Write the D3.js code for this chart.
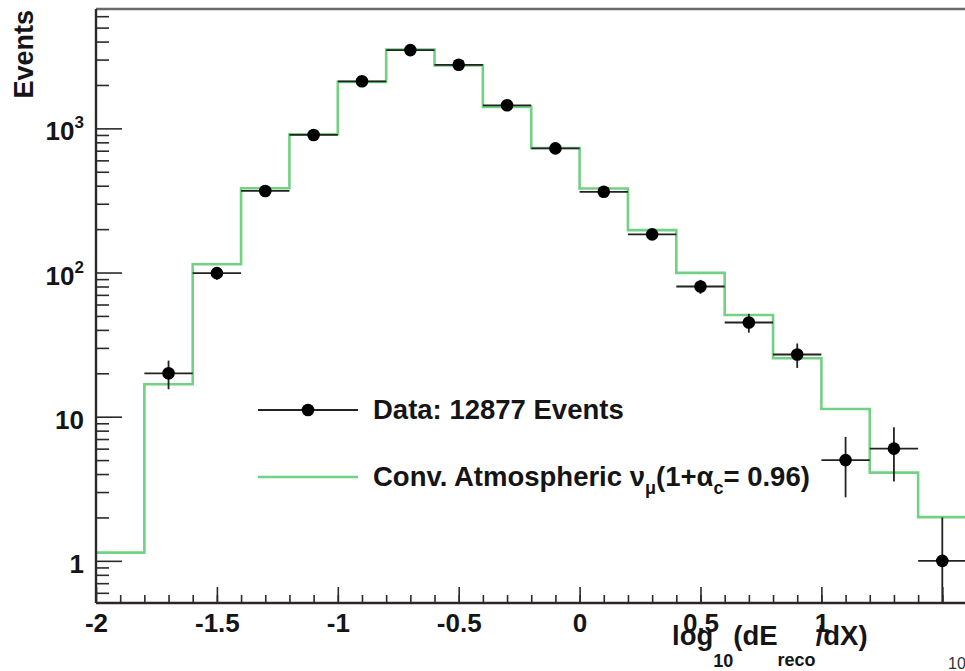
<!DOCTYPE html>
<html lang="en">
<head>
<meta charset="utf-8">
<title>log10(dE/dX) distribution</title>
<script src="https://d3js.org/d3.v7.min.js"></script>
<style>
  body { margin: 0; background: #fff; }
  svg { display: block; font-family: "Liberation Sans", Arial, Helvetica, sans-serif; font-weight: bold; }
  .axis path { display: none; }
  .axis line { stroke: #2a2a2a; stroke-width: 1.6px; }
  .axis text { font-family: "Liberation Sans", Arial, sans-serif; font-size: 26px; font-weight: bold; fill: #151515; }
</style>
</head>
<body>
<svg width="965" height="671"></svg>
<script>
  // histogram bin edges of the simulation (width 0.2), cut at the picture edge
  var mcEdges = [-2, -1.8, -1.6, -1.4, -1.2, -1, -0.8, -0.6, -0.4, -0.2, 0,
                 0.2, 0.4, 0.6, 0.8, 1, 1.2, 1.4, 1.6];
  // Conv. atmospheric nu_mu expectation per bin
  var mcCounts = [1.14, 16.8, 114, 384, 910, 2100, 3520, 2737, 1410, 731,
                  383, 197, 99.5, 50.7, 25.4, 11.3, 4.09, 2.01];

  // data points (bin centres), counts and poisson errors
  var dataX = [-1.7, -1.5, -1.3, -1.1, -0.9, -0.7, -0.5, -0.3, -0.1,
               0.1, 0.3, 0.5, 0.7, 0.9, 1.1, 1.3, 1.5];
  var dataCounts = [20, 99, 368, 900, 2120, 3490, 2760, 1445, 726,
                    363, 184, 80, 45, 27, 5, 6, 1];
  var dataErr = [4.5, 10, 19, 30, 46, 59, 53, 38, 27,
                 19, 13.6, 8.9, 6.7, 5.2, 2.24, 2.45, 1];
  var dataHalfWidth = 0.1;

  var xMajorTicks = [-2, -1.5, -1, -0.5, 0, 0.5, 1, 1.5];
  var xTickLabels = [-2, -1.5, -1, -0.5, 0, 0.5, 1];
  var yDecades = [1, 10, 100, 1000];
  var yLabels = [["1", ""], ["10", ""], ["10", "2"], ["10", "3"]];

  var svg = d3.select("svg");
  var green = "#72d183";

  var x = d3.scaleLinear().domain([-2, 2]).range([96, 1063.2]);
  var y = d3.scaleLog().domain([0.51, 6730]).range([603, 9]);

  // frame top line
  svg.append("line")
    .attr("x1", x(-2)).attr("x2", 965)
    .attr("y1", y.range()[1]).attr("y2", y.range()[1])
    .attr("stroke", "#6a6a6a").attr("stroke-width", 2.5);

  // simulation step histogram
  var stepPts = mcCounts.map(function(c, i) { return [mcEdges[i], c]; });
  stepPts.push([mcEdges[mcEdges.length - 1], mcCounts[mcCounts.length - 1]]);
  var step = d3.line()
    .x(function(d) { return x(d[0]); })
    .y(function(d) { return y(d[1]); })
    .curve(d3.curveStepAfter);
  svg.append("path")
    .datum(stepPts)
    .attr("fill", "none")
    .attr("stroke", green)
    .attr("stroke-width", 2.6)
    .attr("d", step);

  // data points with error bars
  var pts = svg.append("g").selectAll("g")
    .data(dataX.map(function(d, i) { return {x: d, n: dataCounts[i], e: dataErr[i]}; }))
    .enter().append("g");
  pts.append("line")
    .attr("x1", function(d) { return x(d.x - dataHalfWidth); })
    .attr("x2", function(d) { return x(d.x + dataHalfWidth); })
    .attr("y1", function(d) { return y(d.n); })
    .attr("y2", function(d) { return y(d.n); })
    .attr("stroke", "#222").attr("stroke-width", 1.8);
  pts.append("line")
    .attr("x1", function(d) { return x(d.x); })
    .attr("x2", function(d) { return x(d.x); })
    .attr("y1", function(d) { return y(d.n + d.e); })
    .attr("y2", function(d) { return d.n - d.e > y.domain()[0] ? y(d.n - d.e) : y.range()[0]; })
    .attr("stroke", "#222").attr("stroke-width", 1.8);
  pts.append("circle")
    .attr("cx", function(d) { return x(d.x); })
    .attr("cy", function(d) { return y(d.n); })
    .attr("r", 6.3)
    .attr("fill", "#000");

  // y axis: major and minor ticks pointing inside
  var yMinor = [];
  [0.1, 1, 10, 100, 1000].forEach(function(dec) {
    for (var k = 2; k <= 9; k++) {
      var v = dec * k;
      if (v >= y.domain()[0] && v <= y.domain()[1]) yMinor.push(v);
    }
  });
  svg.append("g").attr("class", "axis")
    .attr("transform", "translate(" + x(-2) + ",0)")
    .call(d3.axisLeft(y).tickValues(yMinor).tickSize(-13).tickFormat(""));
  svg.append("g").attr("class", "axis")
    .attr("transform", "translate(" + x(-2) + ",0)")
    .call(d3.axisLeft(y).tickValues(yDecades).tickSize(-26).tickFormat(""));
  svg.append("line")
    .attr("x1", x(-2)).attr("x2", x(-2))
    .attr("y1", y.range()[1]).attr("y2", y.range()[0])
    .attr("stroke", "#2a2a2a").attr("stroke-width", 2.4);

  var ylab = svg.append("g")
    .selectAll("text")
    .data(yDecades)
    .enter().append("text")
    .attr("x", 84)
    .attr("y", function(d) { return y(d) + 12; })
    .attr("text-anchor", "end")
    .attr("font-size", 26)
    .attr("fill", "#151515");
  ylab.append("tspan").text(function(d, i) { return yLabels[i][0]; });
  ylab.append("tspan")
    .attr("font-size", 17)
    .attr("dy", -12)
    .text(function(d, i) { return yLabels[i][1]; });

  // x axis
  svg.append("g").attr("class", "axis")
    .attr("transform", "translate(0," + y.range()[0] + ")")
    .call(d3.axisBottom(x).tickValues(d3.range(-19, 20).map(function(k) { return k / 10; }))
      .tickSize(-8).tickFormat(""));
  svg.append("g").attr("class", "axis")
    .attr("transform", "translate(0," + y.range()[0] + ")")
    .call(d3.axisBottom(x).tickValues(xMajorTicks).tickSize(-16).tickFormat(""));
  svg.append("g").attr("class", "axis")
    .attr("transform", "translate(0," + y.range()[0] + ")")
    .call(d3.axisBottom(x).tickValues(xTickLabels).tickSize(0).tickPadding(11)
      .tickFormat(function(d) { return String(d); }));
  svg.append("line")
    .attr("x1", x(-2)).attr("x2", 965)
    .attr("y1", y.range()[0]).attr("y2", y.range()[0])
    .attr("stroke", "#2e2424").attr("stroke-width", 2.4);

  // axis titles
  svg.append("text")
    .attr("transform", "translate(33,10) rotate(-90)")
    .attr("text-anchor", "end")
    .attr("font-size", 27)
    .attr("fill", "#151515")
    .text("Events");

  var xt = svg.append("text")
    .attr("x", 672).attr("y", 645)
    .attr("font-size", 27.5)
    .attr("fill", "#151515");
  xt.append("tspan").text("log");
  xt.append("tspan").attr("font-size", 18).attr("dy", 22).text("10");
  xt.append("tspan").attr("dy", -22).text("(dE");
  xt.append("tspan").attr("font-size", 18).attr("dy", 21).text("reco");
  xt.append("tspan").attr("dy", -21).text("/dX)");

  svg.append("text")
    .attr("x", 948).attr("y", 669)
    .attr("font-size", 16)
    .attr("font-weight", "normal")
    .attr("fill", "#333")
    .text("10");

  // legend
  var leg = svg.append("g");
  leg.append("line")
    .attr("x1", 258).attr("x2", 358).attr("y1", 410).attr("y2", 410)
    .attr("stroke", "#222").attr("stroke-width", 1.8);
  leg.append("circle").attr("cx", 308).attr("cy", 410).attr("r", 6.3).attr("fill", "#000");
  leg.append("text")
    .attr("x", 373).attr("y", 419)
    .attr("font-size", 27.5).attr("fill", "#151515")
    .text("Data: 12877 Events");

  leg.append("line")
    .attr("x1", 258).attr("x2", 358).attr("y1", 477).attr("y2", 477)
    .attr("stroke", green).attr("stroke-width", 2.6);
  var lt = leg.append("text")
    .attr("x", 373).attr("y", 486)
    .attr("font-size", 27.5).attr("fill", "#151515");
  lt.append("tspan").text("Conv. Atmospheric \u03bd");
  lt.append("tspan").attr("font-size", 18).attr("dy", 8).text("\u03bc");
  lt.append("tspan").attr("dy", -8).text("(1+\u03b1");
  lt.append("tspan").attr("font-size", 18).attr("dy", 8).text("c");
  lt.append("tspan").attr("dy", -8).text("= 0.96)");
</script>
</body>
</html>
